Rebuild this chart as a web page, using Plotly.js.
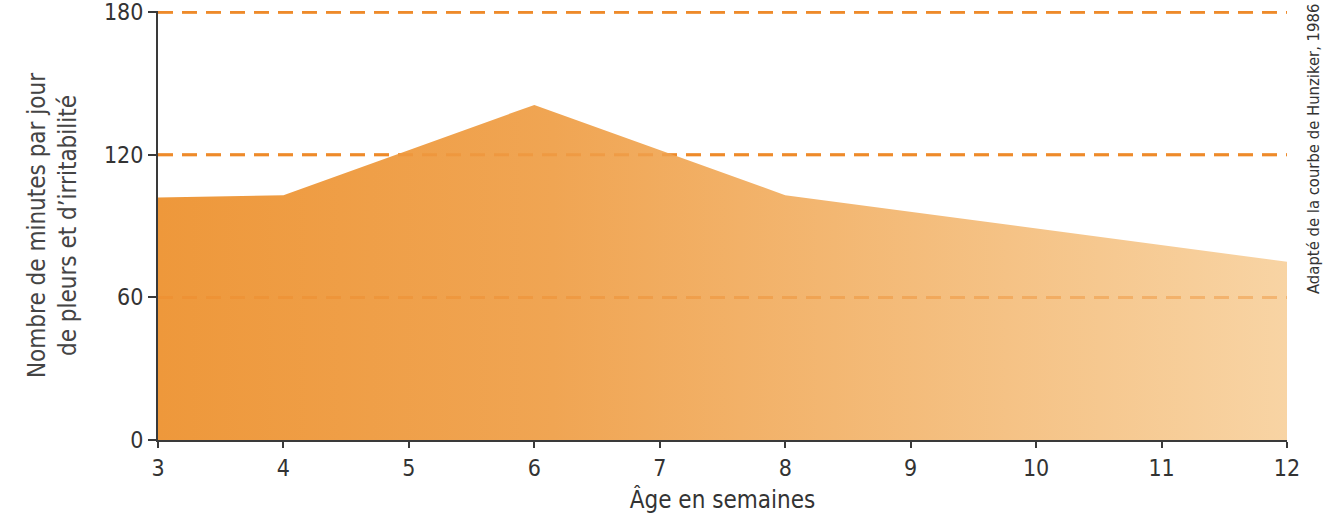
<!DOCTYPE html>
<html>
<head>
<meta charset="utf-8">
<script src="https://cdn.plot.ly/plotly-3.0.1.min.js"></script>
<style>html,body{margin:0;padding:0;background:#fff;}#chart{width:1323px;height:530px;}</style>
</head>
<body>
<div id="chart"></div>
<script>
const weeks = [3, 4, 6, 8, 12];
const minutes = [102, 103, 141, 103, 75];
const xTicks = [3, 4, 5, 6, 7, 8, 9, 10, 11, 12];
const yTicks = [0, 60, 120, 180];
const gridLevels = [60, 120, 180];

const FONT = "'DejaVu Sans Condensed', 'Liberation Sans Narrow', sans-serif";

const trace = {
  x: weeks, y: minutes, type: 'scatter', mode: 'lines',
  fill: 'tozeroy',
  line: {width: 0, color: 'rgba(0,0,0,0)'},
  fillgradient: {type: 'horizontal', colorscale: [[0, '#ee983b'], [0.35, '#f0a553'], [1, '#f8d4a4']]},
  hoverinfo: 'skip', showlegend: false
};

const shapesBelow = gridLevels.map(v => ({
  type: 'line', xref: 'paper', x0: 0, x1: 1, yref: 'y', y0: v, y1: v,
  line: {color: '#ee8a2a', width: 3, dash: '15px,9px'}, layer: 'below'
}));
const shapesAbove = gridLevels.map(v => ({
  type: 'line', xref: 'paper', x0: 0, x1: 1, yref: 'y', y0: v, y1: v,
  line: {color: '#ee8a2a', width: 3, dash: '15px,9px'}, opacity: 0.4, layer: 'above'
}));

const layout = {
  width: 1323, height: 530,
  margin: {l: 158, r: 36, t: 11, b: 90},
  paper_bgcolor: '#fff', plot_bgcolor: '#fff',
  font: {family: FONT, color: '#333', size: 22},
  xaxis: {
    range: [3, 12], tickvals: xTicks, ticktext: xTicks.map(String),
    showline: true, linecolor: '#3a3a3a', linewidth: 2,
    ticks: 'outside', ticklen: 6, tickwidth: 2, tickcolor: '#3a3a3a',
    showgrid: false, zeroline: false,
    tickfont: {family: FONT, size: 23, color: '#333'},
    title: {text: 'Âge en semaines', font: {family: FONT, size: 24, color: '#333'}, standoff: 12}
  },
  yaxis: {
    range: [0, 180.5], tickvals: yTicks, ticktext: yTicks.map(String),
    showline: true, linecolor: '#3a3a3a', linewidth: 2,
    ticks: 'outside', ticklen: 8, tickwidth: 2, tickcolor: '#3a3a3a',
    showgrid: false, zeroline: false, ticklabeloverflow: 'allow',
    tickfont: {family: FONT, size: 23, color: '#333'},
    title: {text: 'Nombre de minutes par jour<br>de pleurs et d’irritabilité', font: {family: FONT, size: 24, color: '#444'}, standoff: 20}
  },
  shapes: shapesBelow.concat(shapesAbove),
  annotations: [{
    text: 'Adapté de la courbe de Hunziker, 1986', xref: 'paper', yref: 'paper',
    x: 1, xanchor: 'center', xshift: 26, y: 1, yanchor: 'top', yshift: 9,
    textangle: -90, showarrow: false, font: {family: FONT, size: 16.5, color: '#333'}
  }]
};

Plotly.newPlot('chart', [trace], layout, {displayModeBar: false, staticPlot: true});
</script>
</body>
</html>
